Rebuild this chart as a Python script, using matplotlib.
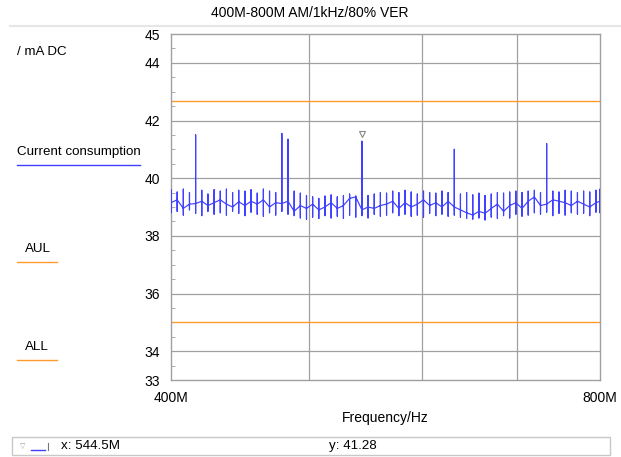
import numpy as np
import matplotlib
matplotlib.use("Agg")
import matplotlib.pyplot as plt
from matplotlib.ticker import FixedLocator, NullFormatter
from matplotlib.transforms import offset_copy
from matplotlib.patches import Rectangle
from matplotlib.lines import Line2D

plt.rcParams['font.family'] = ['Liberation Sans', 'DejaVu Sans']

# sweep 400M..800M in 1 % steps, last point at 800M
freq = np.append(400e6 * 1.01 ** np.arange(70), 800e6)

# current consumption per step (mA): upper/lower envelope and mid value
hi = [39.60, 39.52, 39.62, 39.50, 41.50, 39.58, 39.45, 39.60, 39.55, 39.62,
      39.50, 39.58, 39.55, 39.60, 39.48, 39.62, 39.55, 39.50, 41.55, 41.35,
      39.55, 39.48, 39.40, 39.35, 39.30, 39.38, 39.42, 39.35, 39.40, 39.45,
      39.38, 41.28, 39.40, 39.45, 39.50, 39.48, 39.55, 39.50, 39.58, 39.52,
      39.45, 39.55, 39.50, 39.48, 39.55, 39.50, 41.00, 39.45, 39.50, 39.42,
      39.48, 39.40, 39.45, 39.50, 39.48, 39.52, 39.55, 39.50, 39.55, 39.58,
      39.50, 41.20, 39.55, 39.52, 39.58, 39.55, 39.50, 39.55, 39.52, 39.58,
      39.62]
lo = [38.80, 38.85, 38.72, 38.90, 38.78, 38.70, 38.85, 38.75, 38.80, 38.72,
      38.85, 38.78, 38.70, 38.82, 38.75, 38.68, 38.80, 38.72, 38.85, 38.75,
      38.70, 38.62, 38.58, 38.65, 38.60, 38.70, 38.62, 38.68, 38.60, 38.72,
      38.65, 38.70, 38.62, 38.75, 38.68, 38.72, 38.80, 38.70, 38.75, 38.68,
      38.72, 38.65, 38.78, 38.70, 38.75, 38.68, 38.72, 38.65, 38.60, 38.58,
      38.62, 38.55, 38.65, 38.60, 38.70, 38.62, 38.75, 38.68, 38.72, 38.80,
      38.75, 38.82, 38.70, 38.78, 38.72, 38.80, 38.75, 38.78, 38.70, 38.82,
      38.80]
mid = [39.15, 39.25, 38.95, 39.10, 39.12, 39.20, 39.05, 39.15, 39.25, 39.10,
       39.00, 39.18, 39.05, 39.20, 39.10, 39.25, 39.00, 39.15, 39.12, 39.20,
       38.85, 39.05, 38.95, 39.10, 38.90, 39.00, 39.15, 38.95, 39.05, 39.30,
       39.35, 38.90, 39.00, 38.95, 39.05, 39.10, 39.20, 38.95, 39.15, 39.00,
       39.10, 39.25, 39.05, 39.15, 39.00, 39.20, 39.00, 38.90, 38.80, 38.72,
       38.85, 38.78, 38.95, 39.10, 38.85, 39.05, 39.15, 38.95, 39.20, 39.35,
       39.05, 39.10, 39.25, 39.20, 39.15, 39.05, 39.20, 39.10, 39.00, 39.15,
       39.20]

aul = 42.67
all_limit = 35.0
marker_f = 544.5e6
marker_y = 41.28

BLUE = '#4040ff'
ORANGE = '#ff9a2e'
GRID = '#a0a0a0'

fig = plt.figure(figsize=(6.21, 4.57), dpi=100)
ax = fig.add_axes([171 / 621, 1 - 380 / 457, 429 / 621, 346 / 457])

# each step: vertical stroke over the envelope, joined at the mid value
xs = np.repeat(freq, 4)
ys = np.column_stack([mid, hi, lo, mid]).ravel()
ax.plot(xs, ys, color=BLUE, lw=0.85, zorder=3)

ax.axhline(aul, color=ORANGE, lw=1, zorder=2)
ax.axhline(all_limit, color=ORANGE, lw=1, zorder=2)

# marker
mk_tr = offset_copy(ax.transData, fig=fig, y=7, units='dots')
ax.plot([marker_f], [marker_y], marker='v', ms=5, mfc='white', mec='#888888',
        mew=0.8, transform=mk_tr, zorder=4)

ax.set_xscale('log')
ax.set_xlim(400e6, 800e6)
ax.set_ylim(33, 45)

ax.xaxis.set_major_locator(FixedLocator([400e6, 800e6]))
ax.set_xticklabels(['400M', '800M'])
ax.xaxis.set_minor_locator(FixedLocator([500e6, 600e6, 700e6]))
ax.xaxis.set_minor_formatter(NullFormatter())
ax.tick_params(axis='x', which='both', length=0, pad=8, labelsize=10)
ax.grid(True, axis='x', which='minor', color=GRID, lw=0.9)

for v in range(34, 45, 2):
    ax.axhline(v, color=GRID, lw=0.9, zorder=1)

ax.yaxis.set_major_locator(FixedLocator([33, 34, 36, 38, 40, 42, 44, 45]))
ax.yaxis.set_minor_locator(FixedLocator(np.arange(33.5, 45, 0.5)))
ax.tick_params(axis='y', which='major', length=0, pad=8, labelsize=10)
ax.tick_params(axis='y', which='minor', length=3, direction='in', color=GRID)

for s in ax.spines.values():
    s.set_color(GRID)
    s.set_linewidth(1)

ax.set_xlabel('Frequency/Hz', fontsize=10, labelpad=4)

fig.text(310 / 621, 1 - 13 / 457, '400M-800M AM/1kHz/80% VER', ha='center',
         va='center', fontsize=10)
fig.add_artist(Line2D([10 / 621, 1], [1 - 26 / 457] * 2, color='#e6e6e6', lw=1.5))

# side legend
fig.text(17 / 621, 1 - 52 / 457, '/ mA DC', va='center', fontsize=9.6)
fig.text(17 / 621, 1 - 152 / 457, 'Current consumption', va='center', fontsize=9.6)
fig.add_artist(Line2D([17 / 621, 140 / 621], [1 - 165 / 457] * 2, color=BLUE, lw=1))
fig.text(25 / 621, 1 - 249 / 457, 'AUL', va='center', fontsize=9.6)
fig.add_artist(Line2D([17 / 621, 57 / 621], [1 - 262 / 457] * 2, color=ORANGE, lw=1))
fig.text(25 / 621, 1 - 347 / 457, 'ALL', va='center', fontsize=9.6)
fig.add_artist(Line2D([17 / 621, 57 / 621], [1 - 360 / 457] * 2, color=ORANGE, lw=1))

# marker readout bar
fig.add_artist(Rectangle((12 / 621, 1 - 455 / 457), 598 / 621, 18 / 457,
                         transform=fig.transFigure, fill=False,
                         edgecolor='#c8c8c8', lw=1))
fig.text(23 / 621, 1 - 446 / 457, '\u25bd', va='center', ha='center',
         fontsize=5, color='#999999', family=['DejaVu Sans'])
fig.add_artist(Line2D([31 / 621, 45 / 621], [1 - 450 / 457] * 2, color=BLUE, lw=1))
fig.add_artist(Line2D([48 / 621, 48 / 621], [1 - 450 / 457, 1 - 443 / 457],
                      color='#777777', lw=0.8))
fig.text(61 / 621, 1 - 446 / 457, 'x: 544.5M', va='center', fontsize=9.6)
fig.text(329 / 621, 1 - 446 / 457, 'y: 41.28', va='center', fontsize=9.6)

fig.savefig('out.png', dpi=100)
